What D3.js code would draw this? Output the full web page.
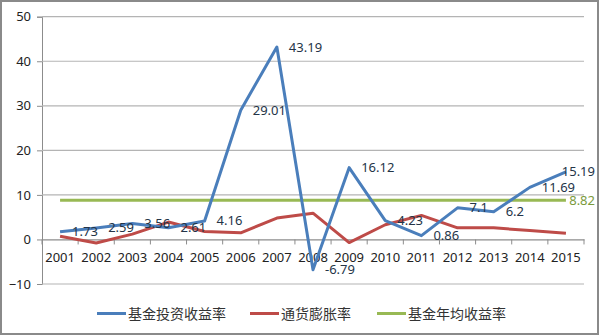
<!DOCTYPE html>
<html>
<head>
<meta charset="utf-8">
<script src="https://cdn.jsdelivr.net/npm/d3@7/dist/d3.min.js"></script>
<style>
  html, body { margin: 0; padding: 0; background: #fff; }
  svg { display: block; }
  text { font-family: "Noto Sans", "Noto Sans CJK SC", sans-serif; }
</style>
</head>
<body>
<svg id="chart" width="600" height="336"></svg>
<script>
// Years on the category axis
const years = ["2001","2002","2003","2004","2005","2006","2007","2008",
               "2009","2010","2011","2012","2013","2014","2015"];
// 基金投资收益率 (%)
const fundReturn = [1.73, 2.59, 3.56, 2.61, 4.16, 29.01, 43.19, -6.79,
                    16.12, 4.23, 0.86, 7.1, 6.2, 11.69, 15.19];
// 通货膨胀率 (%)
const inflation = [0.7, -0.8, 1.2, 3.9, 1.8, 1.5, 4.8, 5.9,
                   -0.7, 3.3, 5.4, 2.6, 2.6, 2.0, 1.4];
// 基金年均收益率 (%)
const avgReturn = 8.82;
const yTicks = [-10, 0, 10, 20, 30, 40, 50];
const seriesNames = ["基金投资收益率", "通货膨胀率", "基金年均收益率"];
const seriesColors = ["#4a7ebb", "#be4b48", "#98b954"];

const svg = d3.select("#chart");

// outer frame
svg.append("rect")
  .attr("x", 1).attr("y", 1).attr("width", 597).attr("height", 333)
  .attr("fill", "#fff").attr("stroke", "#8a8a8a").attr("stroke-width", 2);

const plot = { left: 42, right: 584, top: 16.7, bottom: 284 };

const x = d3.scaleBand().domain(years).range([plot.left, plot.right]);
const cx = d => x(d) + x.bandwidth() / 2;
const y = d3.scaleLinear().domain([-10, 50]).range([plot.bottom, plot.top]);

// horizontal gridlines + y axis labels
const yAxis = svg.append("g")
  .attr("transform", `translate(${plot.left},0)`)
  .call(d3.axisLeft(y).tickValues(yTicks).tickSize(5).tickPadding(6).tickFormat(d3.format("d")));
yAxis.select(".domain").attr("stroke", "#8c8c8c");
yAxis.selectAll(".tick line").attr("stroke", "#8c8c8c");
yAxis.selectAll(".tick text").attr("font-size", 13).attr("fill", "#222");

svg.append("g").selectAll("line").data(yTicks.filter(v => v !== 0)).join("line")
  .attr("x1", plot.left).attr("x2", plot.right)
  .attr("y1", d => y(d)).attr("y2", d => y(d))
  .attr("stroke", "#b4b4b4").attr("stroke-width", 1.2);

// category axis at zero
const xAxis = svg.append("g")
  .attr("transform", `translate(0,${y(0)})`)
  .call(d3.axisBottom(x).tickSize(0).tickPadding(13));
xAxis.select(".domain").attr("stroke", "#8c8c8c").attr("stroke-width", 1.2);
xAxis.selectAll(".tick text").attr("font-size", 13).attr("fill", "#222");

// tick marks on category boundaries
const bounds = years.map(d => x(d)).concat([plot.right]);
svg.append("g").selectAll("line").data(bounds).join("line")
  .attr("x1", d => d).attr("x2", d => d)
  .attr("y1", y(0)).attr("y2", y(0) + 5)
  .attr("stroke", "#8c8c8c");

const line = d3.line().x(d => cx(d.year)).y(d => y(d.v));

const series = [
  years.map((yr, i) => ({ year: yr, v: fundReturn[i] })),
  years.map((yr, i) => ({ year: yr, v: inflation[i] })),
  years.map(yr => ({ year: yr, v: avgReturn }))
];

// draw red and green first, blue on top
[1, 2, 0].forEach(k => {
  svg.append("path")
    .datum(series[k])
    .attr("fill", "none")
    .attr("stroke", seriesColors[k])
    .attr("stroke-width", 3)
    .attr("stroke-linejoin", "round")
    .attr("d", line);
});

// data labels, kept inside the frame on the right
const rightLimit = 595;
function addLabel(px, py, txt, color) {
  const t = svg.append("text")
    .attr("x", px + 12).attr("y", py).attr("dy", "0.35em")
    .attr("font-size", 13).attr("fill", color).text(txt);
  const w = t.node().getComputedTextLength();
  if (px + 12 + w > rightLimit) t.attr("x", rightLimit - w);
}
series[0].forEach(d => addLabel(cx(d.year), y(d.v), String(d.v), "#243447"));
const lastAvg = series[2][series[2].length - 1];
addLabel(cx(lastAvg.year), y(lastAvg.v), String(avgReturn), "#7a9a3c");

// legend
const legendX = [97, 250, 377];
const legend = svg.append("g");
seriesNames.forEach((name, i) => {
  legend.append("line")
    .attr("x1", legendX[i]).attr("x2", legendX[i] + 29)
    .attr("y1", 313.5).attr("y2", 313.5)
    .attr("stroke", seriesColors[i]).attr("stroke-width", 3);
  legend.append("text")
    .attr("x", legendX[i] + 31).attr("y", 313.5).attr("dy", "0.36em")
    .attr("font-size", 14).attr("fill", "#333")
    .style("font-family", '"Noto Sans CJK SC", sans-serif')
    .text(name);
});
</script>
</body>
</html>
